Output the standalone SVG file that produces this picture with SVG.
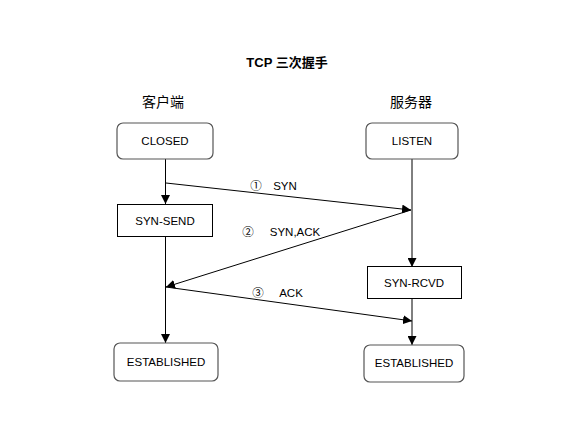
<svg xmlns="http://www.w3.org/2000/svg" width="582" height="446" viewBox="0 0 582 446">
<style>
text{font-family:"Liberation Sans","Noto Sans CJK SC",sans-serif;fill:#000}
.lbl{font-size:11.5px;text-anchor:middle}
.rbox{fill:#fff;stroke:#555;stroke-width:1.2}
.box{fill:#fff;stroke:#000;stroke-width:1}
.ln{stroke:#000;stroke-width:1;fill:none}
</style>
<defs>
<marker id="ah" viewBox="0 0 10 10" refX="10" refY="5" markerWidth="9" markerHeight="9" markerUnits="userSpaceOnUse" orient="auto">
<path d="M0,0 L10,5 L0,10 z" fill="#000"/>
</marker>
</defs>
<rect width="582" height="446" fill="#fff"/>
<text x="287" y="67" font-size="13" font-weight="bold" text-anchor="middle">TCP 三次握手</text>
<text x="163" y="107" font-size="14" text-anchor="middle">客户端</text>
<text x="411" y="107" font-size="14" text-anchor="middle">服务器</text>
<g id="connectors">
<line class="ln" x1="165.5" y1="159" x2="165.5" y2="204" marker-end="url(#ah)"/>
<line class="ln" x1="165.5" y1="236" x2="165.5" y2="343" marker-end="url(#ah)"/>
<line class="ln" x1="412" y1="159" x2="412" y2="267" marker-end="url(#ah)"/>
<line class="ln" x1="412" y1="298" x2="412" y2="345" marker-end="url(#ah)"/>
<line class="ln" x1="166" y1="183" x2="411" y2="210" marker-end="url(#ah)"/>
<line class="ln" x1="411" y1="210" x2="166" y2="287" marker-end="url(#ah)"/>
<line class="ln" x1="166" y1="287" x2="412" y2="321" marker-end="url(#ah)"/>
<text x="256" y="190" class="lbl">①</text>
<text x="285" y="190" class="lbl">SYN</text>
<text x="248" y="236" class="lbl">②</text>
<text x="295" y="236" class="lbl">SYN,ACK</text>
<text x="258" y="297" class="lbl">③</text>
<text x="291" y="297" class="lbl">ACK</text>
</g>
<g id="closed"><rect class="rbox" x="117" y="123" width="96" height="36" rx="6"/><text x="165" y="145" class="lbl">CLOSED</text></g>
<g id="listen"><rect class="rbox" x="366" y="123" width="92" height="36" rx="6"/><text x="412" y="145" class="lbl">LISTEN</text></g>
<g id="syn-send"><rect class="box" x="117.5" y="204.5" width="95" height="32"/><text x="165" y="225" class="lbl">SYN-SEND</text></g>
<g id="syn-rcvd"><rect class="box" x="367.5" y="266.5" width="94" height="32"/><text x="414" y="287" class="lbl">SYN-RCVD</text></g>
<g id="est-client"><rect class="rbox" x="114" y="343" width="104" height="38" rx="6"/><text x="166" y="366" class="lbl">ESTABLISHED</text></g>
<g id="est-server"><rect class="rbox" x="364" y="345" width="100" height="37" rx="6"/><text x="414" y="367" class="lbl">ESTABLISHED</text></g>
</svg>
